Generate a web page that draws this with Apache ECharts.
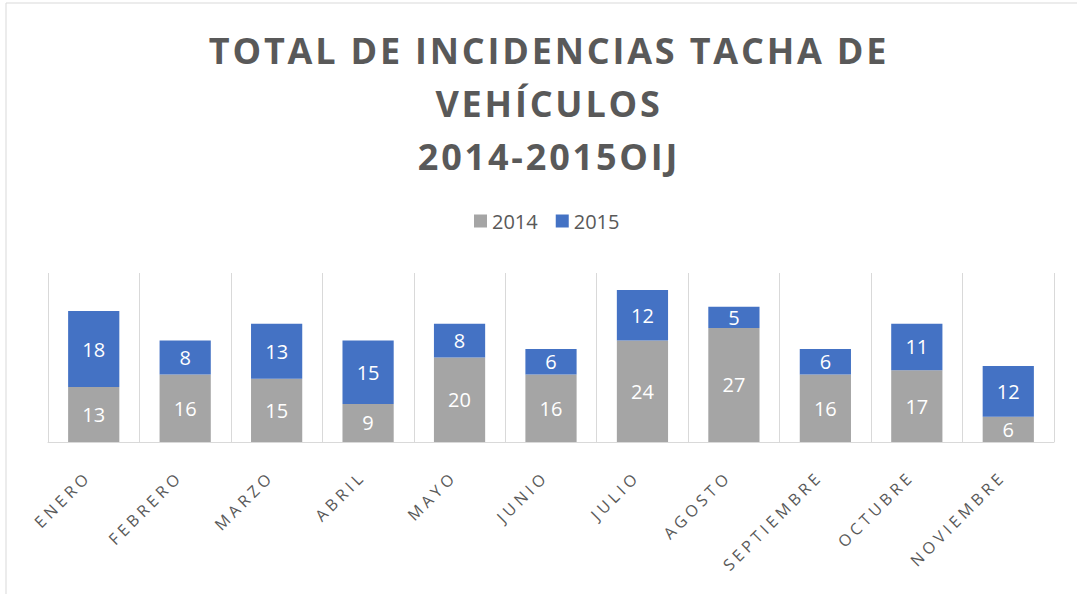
<!DOCTYPE html>
<html><head><meta charset="utf-8">
<script src="https://cdn.jsdelivr.net/npm/echarts@6/dist/echarts.min.js"></script>
<style>
html,body{margin:0;padding:0;background:#fff}
#c{width:1077px;height:594px}
#c text[style*="ttlx"],#c text[font-family*="ttlx"]{letter-spacing:2.8px}
#c text[style*="axlx"],#c text[font-family*="axlx"]{letter-spacing:4px}
</style>
</head><body><div id="c"></div>
<script>
const categories = ['ENERO','FEBRERO','MARZO','ABRIL','MAYO','JUNIO','JULIO','AGOSTO','SEPTIEMBRE','OCTUBRE','NOVIEMBRE'];
const values2014 = [13,16,15,9,20,16,24,27,16,17,6];
const values2015 = [18,8,13,15,8,6,12,5,6,11,12];
const seriesNames = ['2014','2015'];
const titleText = 'TOTAL DE INCIDENCIAS TACHA DE\nVEHÍCULOS\n2014-2015OIJ';

const chart = echarts.init(document.getElementById('c'), null, {renderer:'svg'});
const labelStyle = {show:true, position:'inside', color:'#fff', fontSize:20, fontFamily:'Open Sans'};
chart.setOption({
  animation:false,
  graphic:[{type:'rect', shape:{x:6,y:3,width:1080,height:600}, style:{fill:'none', stroke:'#d9d9d9', lineWidth:1}, silent:true}],
  title:{text:titleText, left:544, top:19, textAlign:'center',
    textStyle:{fontFamily:"'Open Sans', ttlx", fontWeight:'bold', fontSize:36, lineHeight:53, color:'#595959'}},
  legend:{top:206, left:469, itemWidth:13, itemHeight:13, itemGap:18, icon:'rect',
    textStyle:{fontFamily:'Open Sans', fontSize:20, color:'#595959'}, data:seriesNames},
  grid:{left:48, right:23, top:273, bottom:152, containLabel:false},
  xAxis:{type:'category', data:categories,
    axisLine:{lineStyle:{color:'#d9d9d9', width:1}}, axisTick:{show:false},
    splitLine:{show:true, lineStyle:{color:'#d9d9d9', width:1}},
    axisLabel:{rotate:45, interval:0, margin:26, padding:[0,8,0,0], color:'#595959', fontFamily:"'Open Sans', axlx", fontSize:16}},
  yAxis:{type:'value', min:0, max:40, interval:10, show:false, splitLine:{show:false}},
  series:[
    {name:seriesNames[0], type:'bar', stack:'t', data:values2014, itemStyle:{color:'#A5A5A5'}, barCategoryGap:'44%', label:labelStyle},
    {name:seriesNames[1], type:'bar', stack:'t', data:values2015, itemStyle:{color:'#4472C4'}, barCategoryGap:'44%', label:labelStyle}
  ]
});
</script></body></html>
